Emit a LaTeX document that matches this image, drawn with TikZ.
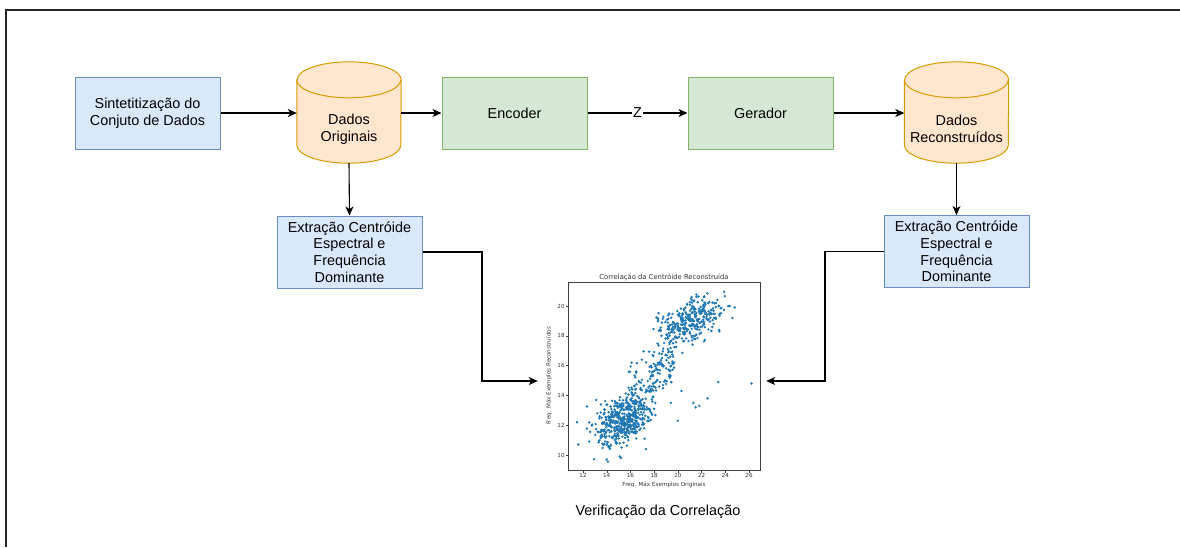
\documentclass[tikz,border=0pt]{standalone}
\usepackage{fontspec}
\setmainfont{Liberation Sans}
\newfontfamily\plotfont{DejaVu Sans}
\usetikzlibrary{arrows.meta,calc}

\definecolor{bluefill}{HTML}{DAE8FC}
\definecolor{blueline}{HTML}{6C8EBF}
\definecolor{greenfill}{HTML}{D5E8D4}
\definecolor{greenline}{HTML}{82B366}
\definecolor{orangefill}{HTML}{FFE6CC}
\definecolor{orangeline}{HTML}{D79B00}
\definecolor{mplblue}{HTML}{1F77B4}
\definecolor{inkgray}{HTML}{333333}

\tikzset{
  mainfont/.style={font=\fontsize{14.4}{16.6}\selectfont},
  box/.style={rectangle, line width=1pt, minimum width=145pt, minimum height=72pt,
    align=center, inner sep=0pt, mainfont},
  procblue/.style={box, fill=bluefill, draw=blueline},
  procgreen/.style={box, fill=greenfill, draw=greenline},
  dbnode/.style={rectangle, minimum width=104pt, minimum height=101pt, inner sep=0pt},
  dbtext/.style={align=center, inner sep=0pt, mainfont},
  link/.style={draw=black, line width=1.1pt, -{Stealth[length=9pt,width=8pt,inset=2.5pt]}},
  dot/.style={fill=mplblue},
  ticklab/.style={font=\plotfont\fontsize{5.6}{6.5}\selectfont, text=inkgray, inner sep=1pt},
}

% database cylinder drawn around a named node
\newcommand{\drawcylinder}[1]{%
  \filldraw[fill=orangefill, draw=orangeline, line width=1pt]
    ($(#1.north west)+(0,-18)$) -- ($(#1.south west)+(0,18)$)
    arc[start angle=180, end angle=360, x radius=52pt, y radius=18pt]
    -- ($(#1.north east)+(0,-18)$)
    arc[start angle=0, end angle=180, x radius=52pt, y radius=18pt] -- cycle;
  \draw[orangeline, line width=1pt] ($(#1.north west)+(0,-18)$)
    arc[start angle=180, end angle=360, x radius=52pt, y radius=18pt];
}

\begin{document}
\begin{tikzpicture}[x=1pt, y=1pt]
\useasboundingbox (0,0) rectangle (1180,-547);

% outer frame
\draw[black!85, line width=1.4pt] (6,-547) -- (6,-10) -- (1180,-10);

% pipeline
\node[procblue] (synth) at (147.5,-113) {Sintetitização do\\Conjuto de Dados};

\node[dbnode] (orig) at (349,-112.5) {};
\drawcylinder{orig}
\node[dbtext] (origtxt) at (349,-129) {Dados\\Originais};

\node[procgreen] (enc) at (514.5,-113) {Encoder};
\node[procgreen] (gen) at (760.5,-113) {Gerador};

\node[dbnode] (recon) at (956.5,-112.5) {};
\drawcylinder{recon}
\node[dbtext] (recontxt) at (956.5,-129) {Dados\\Reconstruídos};

\node[procblue] (extL) at (349.5,-252) {Extração Centróide\\Espectral e\\Frequência\\Dominante};
\node[procblue] (extR) at (956.5,-251.5) {Extração Centróide\\Espectral e\\Frequência\\Dominante};

% scatter plot panel
\node[rectangle, minimum width=228pt, minimum height=232pt, inner sep=0pt] (plot) at (652,-381) {};
\node[dbtext] (caption) at (658,-512) {Verificação da Correlação};

\coordinate (bendL) at (482,-381);
\coordinate (bendR) at (825,-381);

% connectors
\draw[link] (synth.east) -- (orig.west |- synth.east);
\draw[link] (orig.east |- enc.west) -- (enc.west);
\draw[link] (enc.east) -- node[fill=white, inner sep=1pt, mainfont] (zlab) {Z} (gen.west);
\draw[link] (gen.east) -- (recon.west |- gen.east);
\draw[link] (orig.south) -- (extL.north);
\draw[link] (recon.south) -- (extR.north);
\draw[link] (extL.east) -| (bendL) -- (plot.west);
\draw[link] (extR.west) -| (bendR) -- (plot.east);

% plot title and axis labels
\node[font=\plotfont\fontsize{6.8}{8}\selectfont, text=inkgray] (ptitle) at (664,-277) {Correlação da Centróide Reconstruída};
\node[ticklab] (pxlab) at (664,-485) {Freq. Máx Exemplos Originais};
\node[ticklab, rotate=90] (pylab) at (549,-376) {Freq. Máx Exemplos Reconstruídos};

% data coordinates: x=12 -> 583, y=20 -> 306 (image rows)
\begin{scope}[shift={(440.68,-604)}, x=11.86pt, y=14.9pt]
  \draw[black!75, line width=0.5pt] (10.74,8.99) rectangle (26.93,21.61);
  \foreach \t in {12,14,...,26}{
    \draw[black!75, line width=0.4pt] (\t,8.99) -- ++(0,-2.5pt);
    \node[ticklab, anchor=north] at (\t,8.82) {\t};
  }
  \foreach \t in {10,12,...,20}{
    \draw[black!75, line width=0.4pt] (10.74,\t) -- ++(-2.5pt,0);
    \node[ticklab, anchor=east] at (10.55,\t) {\t};
  }
  \pgfmathsetseed{2024}
  % lower cluster
  \foreach \i in {1,...,470}{
    \pgfmathsetmacro\ga{rand+rand+rand}
    \pgfmathsetmacro\gb{rand+rand+rand}
    \pgfmathsetmacro\xx{15.4+1.15*\ga}
    \pgfmathsetmacro\yy{12.35+0.3*1.15*\ga+0.78*\gb}
    \fill[dot] (\xx,\yy) circle[radius=1.35pt];
  }
  % upper cluster
  \foreach \i in {1,...,330}{
    \pgfmathsetmacro\ga{rand+rand+rand}
    \pgfmathsetmacro\gb{rand+rand+rand}
    \pgfmathsetmacro\xx{20.9+1.25*\ga}
    \pgfmathsetmacro\yy{min(20.95,18.95+0.3*1.25*\ga+0.72*\gb)}
    \fill[dot] (\xx,\yy) circle[radius=1.35pt];
  }
  % transition band
  \foreach \i in {1,...,140}{
    \pgfmathsetmacro\ua{(rand+1)/2}
    \pgfmathsetmacro\gb{rand+rand+rand}
    \pgfmathsetmacro\xx{15.8+3.9*\ua}
    \pgfmathsetmacro\yy{14.2+0.55*3.9*\ua+0.85*\gb}
    \fill[dot] (\xx,\yy) circle[radius=1.35pt];
  }
  % isolated points
  \foreach \px/\py in {26.2/14.8, 24.6/19.2, 24.8/19.9, 23.4/14.9, 22.5/13.8,
      21.8/13.3, 21.5/13.2, 21.3/13.5, 20.3/14.3, 11.5/12.2, 11.6/10.7,
      14.0/9.7, 14.1/9.55, 15.1/9.9, 15.2/9.8, 19.4/13.5, 18.0/13.1,
      17.3/10.4, 17.2/11.1, 16.1/16.2, 23.5/18.3, 20.0/12.3}{
    \fill[dot] (\px,\py) circle[radius=1.35pt];
  }
\end{scope}
\end{tikzpicture}
\end{document}
